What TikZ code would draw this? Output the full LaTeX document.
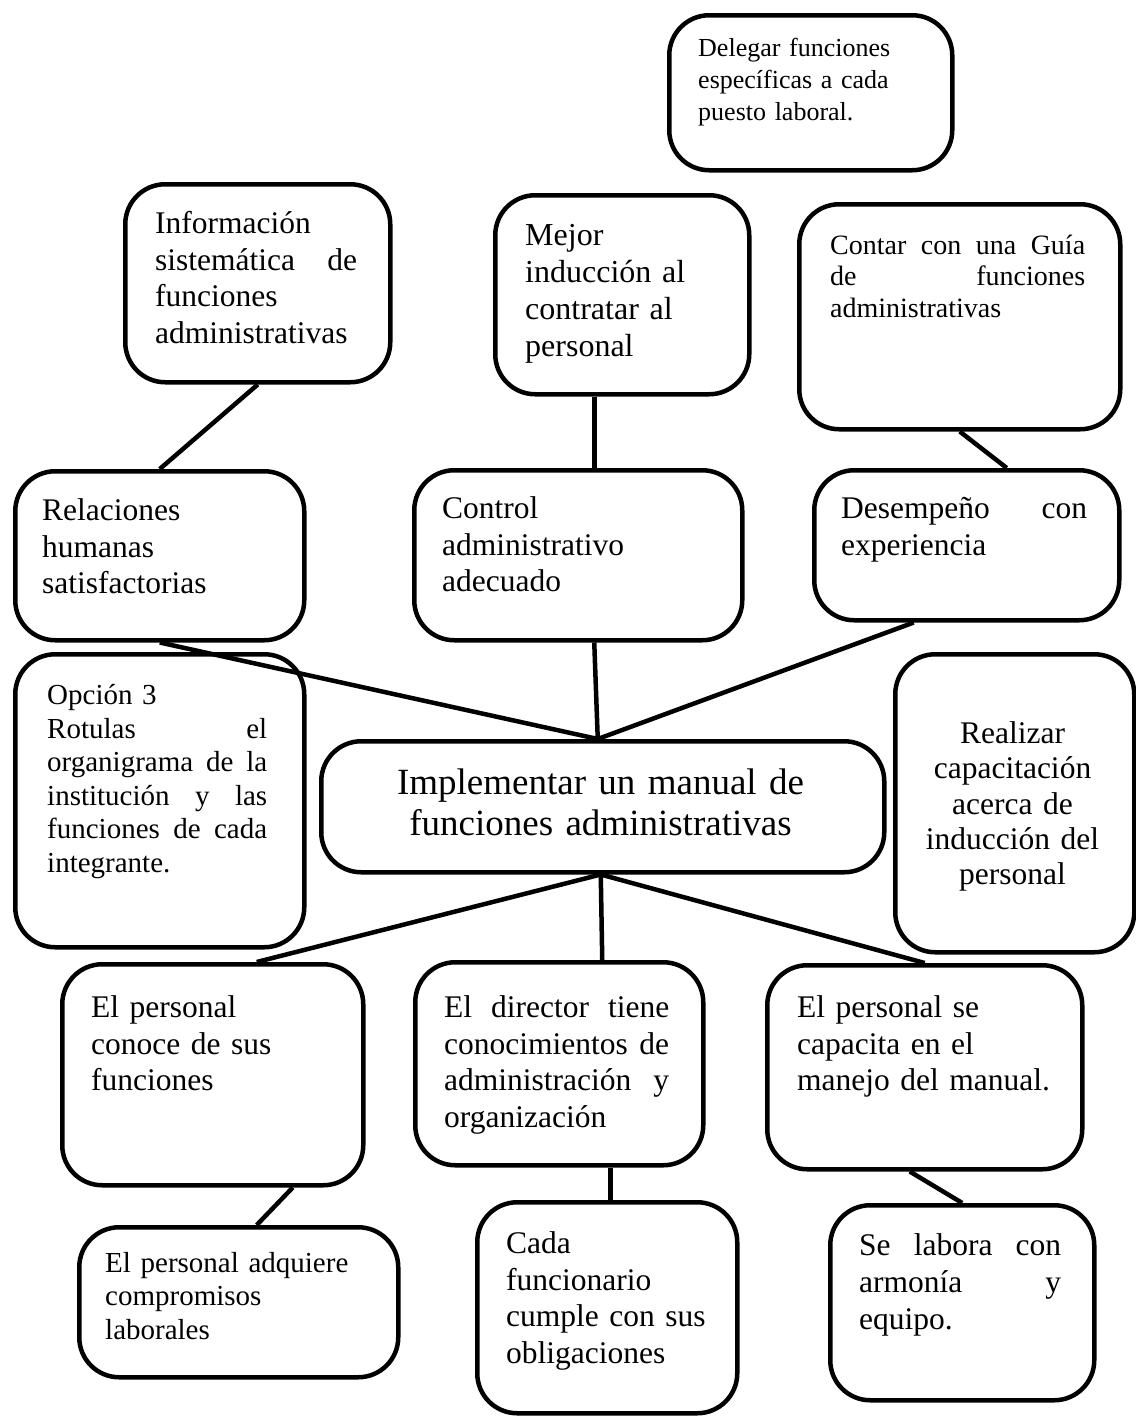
\documentclass[tikz,border=0pt]{standalone}
\usepackage{fontspec}
\setmainfont{Liberation Serif}
\usetikzlibrary{positioning}

\begin{document}
\begin{tikzpicture}[x=1pt, y=-1pt,
    box/.style={draw, line width=4.5pt, rounded corners=40pt, inner sep=0pt, anchor=north west},
    link/.style={line width=4.5pt},
    txt/.style={anchor=base west, inner sep=0pt, align=left, font=\fontsize{31.5}{36.7}\selectfont},
    smalltxt/.style={txt, font=\fontsize{29}{33.5}\selectfont}]
    \useasboundingbox (0,0) rectangle (1135,1416);

    % Top boxes
    \node[box, minimum width=283pt, minimum height=155pt] (deleg) at (667,13) {};
    \node[txt, text width=240pt, font=\fontsize{26}{32}\selectfont] (deleg-t) at (698,56.7) {Delegar funciones\\ específicas a cada\\ puesto laboral.};

    \node[box, minimum width=265pt, minimum height=198pt] (info) at (123,182) {};
    \node[txt, text width=202pt] (info-t) at (155,233.5) {Información\\ sistemática\hfill de\\ funciones\\ administrativas};

    \node[box, minimum width=254pt, minimum height=199pt] (mejor) at (493,193) {};
    \node[txt, text width=200pt, font=\fontsize{32}{37}\selectfont] (mejor-t) at (525,245.5) {Mejor\\ inducción al\\ contratar al\\ personal};

    \node[box, minimum width=321pt, minimum height=225pt] (contar) at (797,202) {};
    \node[txt, text width=255pt, font=\fontsize{28}{31.7}\selectfont] (contar-t) at (830,254) {Contar\hfill con\hfill una\hfill Guía\\ de\hfill funciones\\ administrativas};

    % Second row
    \node[box, minimum width=289pt, minimum height=169pt] (rel) at (13,469) {};
    \node[txt, text width=240pt] (rel-t) at (42,520.5) {Relaciones\\ humanas\\ satisfactorias};

    \node[box, minimum width=328pt, minimum height=170pt] (control) at (412,468) {};
    \node[txt, text width=260pt] (control-t) at (442,518.5) {Control\\ administrativo\\ adecuado};

    \node[box, minimum width=305pt, minimum height=150pt] (desemp) at (812,468) {};
    \node[txt, text width=246pt] (desemp-t) at (841,518.5) {Desempeño\hfill con\\ experiencia};

    % Middle row
    \node[box, minimum width=289pt, minimum height=293pt] (opcion) at (13,652) {};
    \node[smalltxt, text width=220pt] (opcion-t) at (47,704.6) {Opción 3\\ Rotulas\hfill el\\ organigrama\hfill de\hfill la\\ institución\hfill y\hfill las\\ funciones\hfill de\hfill cada\\ integrante.};

    \node[box, minimum width=563pt, minimum height=131pt] (ctr) at (319,739) {};
    \node[txt, anchor=base, align=center, text width=520pt, font=\fontsize{37}{41}\selectfont] (ctr-t) at (600.5,794) {Implementar un manual de\\ funciones administrativas};

    \node[box, minimum width=239pt, minimum height=298pt] (realizar) at (893,652) {};
    \node[txt, anchor=base, align=center, text width=230pt, font=\fontsize{31.5}{35.3}\selectfont] (realizar-t) at (1012.5,743.4) {Realizar\\ capacitación\\ acerca de\\ inducción del\\ personal};

    % Fourth row
    \node[box, minimum width=301pt, minimum height=221pt] (conoce) at (60,962) {};
    \node[txt, text width=240pt] (conoce-t) at (91,1017.4) {El personal\\ conoce de sus\\ funciones};

    \node[box, minimum width=288pt, minimum height=203pt] (director) at (413,960) {};
    \node[txt, text width=225pt] (director-t) at (444,1017.4) {El\hfill director\hfill tiene\\ conocimientos\hfill de\\ administración\hfill y\\ organización};

    \node[box, minimum width=315pt, minimum height=204pt] (capacita) at (765,963) {};
    \node[txt, text width=270pt] (capacita-t) at (797,1017.4) {El personal se\\ capacita en el\\ manejo del manual.};

    % Bottom row
    \node[box, minimum width=319pt, minimum height=150pt] (adquiere) at (77,1225) {};
    \node[smalltxt, text width=270pt, font=\fontsize{29}{33.3}\selectfont] (adquiere-t) at (105,1272.6) {El personal adquiere\\ compromisos\\ laborales};

    \node[box, minimum width=260pt, minimum height=211pt] (cada) at (475,1200) {};
    \node[txt, text width=220pt] (cada-t) at (506,1253.4) {Cada\\ funcionario\\ cumple con sus\\ obligaciones};

    \node[box, minimum width=264pt, minimum height=195pt] (selabora) at (828,1203) {};
    \node[txt, text width=202pt, font=\fontsize{31.5}{37}\selectfont] (selabora-t) at (859,1255.4) {Se\hfill labora\hfill con\\ armonía\hfill y\\ equipo.};

    % Connectors
    \draw[link] (info.south) -- (rel.north);
    \draw[link] ([xshift=-28pt]mejor.south) -- ([xshift=16pt]control.north);
    \draw[link] (contar.south) -- ([xshift=40pt]desemp.north);
    \draw[link] (rel.south) -- ([xshift=-5pt]ctr.north);
    \draw[link] ([xshift=16pt]control.south) -- ([xshift=-5pt]ctr.north);
    \draw[link] ([xshift=-53pt]desemp.south) -- ([xshift=-5pt]ctr.north);
    \draw[link] ([xshift=-2pt]ctr.south) -- ([xshift=44pt]conoce.north);
    \draw[link] ([xshift=-2pt]ctr.south) -- ([xshift=43pt]director.north);
    \draw[link] ([xshift=-2pt]ctr.south) -- (capacita.north);
    \draw[link] ([xshift=80pt]conoce.south) -- ([xshift=18pt]adquiere.north);
    \draw[link] ([xshift=51pt]director.south) -- ([xshift=3pt]cada.north);
    \draw[link] ([xshift=-15pt]capacita.south) -- (selabora.north);
\end{tikzpicture}
\end{document}
